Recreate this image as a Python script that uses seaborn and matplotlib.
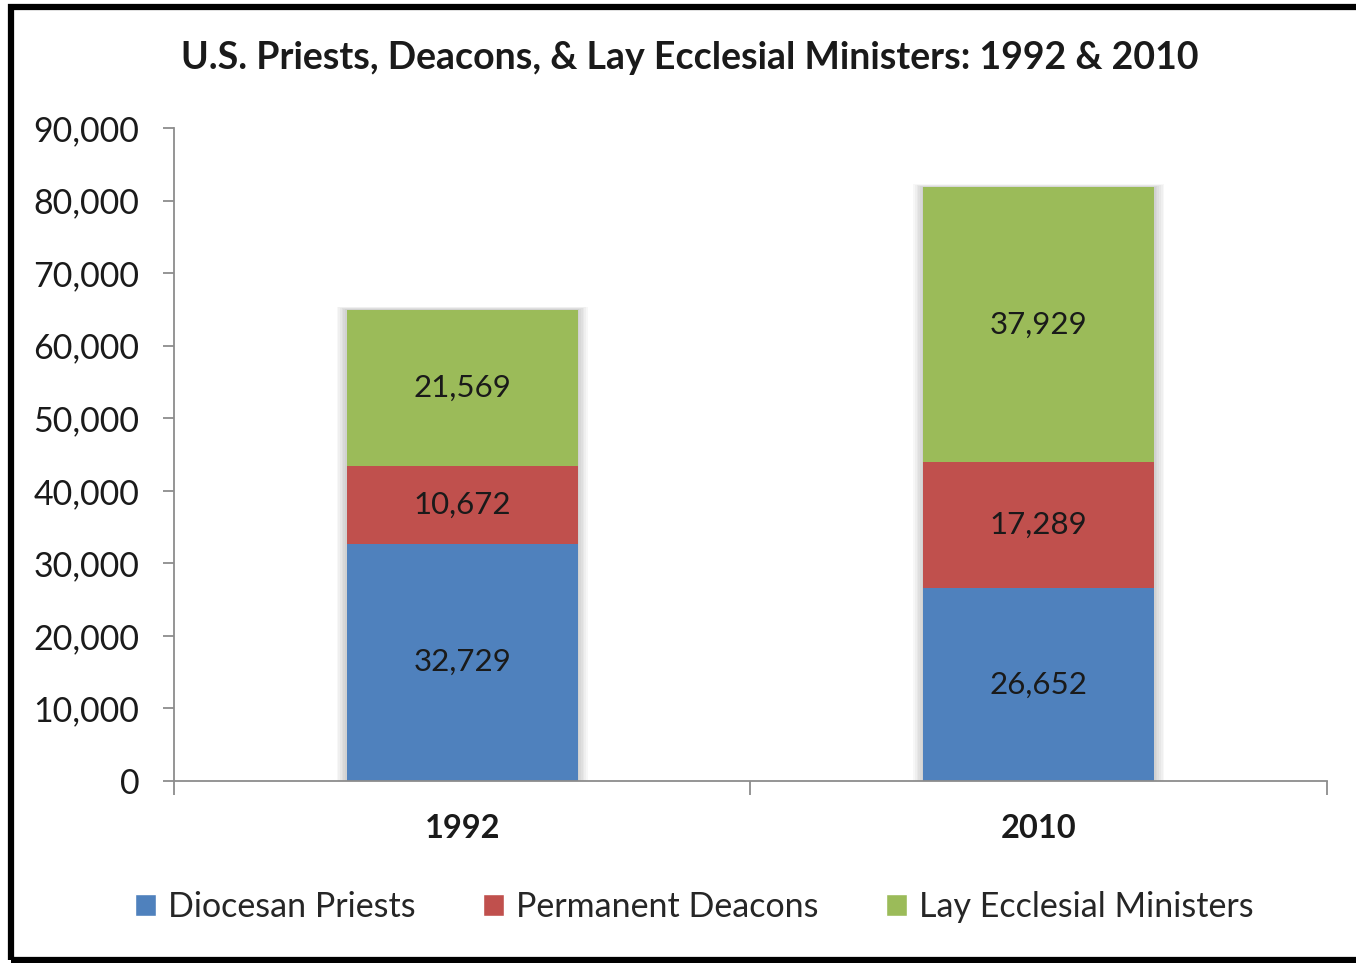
import pandas as pd
import seaborn as sns
import matplotlib.pyplot as plt
from matplotlib.patches import Rectangle, Patch
from matplotlib.ticker import FuncFormatter

# %% Data
years = ['1992', '2010']
priests = [32729, 26652]
deacons = [10672, 17289]
lay_ministers = [21569, 37929]

series = ['Diocesan Priests', 'Permanent Deacons', 'Lay Ecclesial Ministers']
colors = ['#4F81BD', '#C0504D', '#9BBB59']

df = pd.DataFrame({'year': years, 'Diocesan Priests': priests,
                   'Permanent Deacons': deacons,
                   'Lay Ecclesial Ministers': lay_ministers})
df['top1'] = df['Diocesan Priests']
df['top2'] = df['top1'] + df['Permanent Deacons']
df['top3'] = df['top2'] + df['Lay Ecclesial Ministers']

# %% Plot
sns.set_style('white')
plt.rcParams['font.family'] = ['Lato', 'DejaVu Sans']

fig = plt.figure(figsize=(13.56, 9.63), dpi=100)
ax = fig.add_axes([0.1283, 0.189, 0.8503, 0.678])

# soft shadow behind the stacks
for k in range(1, 7):
    ax.bar(range(len(years)), df['top3'] + 60 * k, width=0.4 + 0.006 * k,
           color='black', alpha=0.03, linewidth=0, zorder=0)

for col, c in zip(['top3', 'top2', 'top1'], colors[::-1]):
    sns.barplot(data=df, x='year', y=col, color=c, width=0.4,
                saturation=1, linewidth=0, ax=ax, zorder=2)

for i in range(len(years)):
    bottoms = [0, df['top1'][i], df['top2'][i]]
    vals = [priests[i], deacons[i], lay_ministers[i]]
    for b, v in zip(bottoms, vals):
        ax.text(i, b + v / 2, f'{v:,}', ha='center', va='center',
                fontsize=22.5, color='#1a1a1a', zorder=3)

ax.set_xlim(-0.5, 1.5)
ax.set_ylim(0, 90000)
ax.set_yticks(range(0, 90001, 10000))
ax.yaxis.set_major_formatter(FuncFormatter(lambda v, p: f'{int(v):,}'))
ax.set_xlabel('')
ax.set_ylabel('')

for s in ['top', 'right']:
    ax.spines[s].set_visible(False)
for s in ['left', 'bottom']:
    ax.spines[s].set_color('#8c8c8c')
    ax.spines[s].set_linewidth(1.3)

ax.tick_params(axis='y', which='major', left=True, length=8, width=1.3,
               color='#8c8c8c', labelsize=24.5, pad=17, labelcolor='#1a1a1a')
ax.tick_params(axis='x', which='major', bottom=False, labelsize=23.5, pad=20,
               labelcolor='#1a1a1a')
ax.set_xticks([-0.5, 0.5, 1.5], minor=True)
ax.tick_params(axis='x', which='minor', bottom=True, length=10, width=1.3,
               color='#8c8c8c')
for lbl in ax.get_xticklabels():
    lbl.set_fontweight('bold')

fig.text(0.509, 0.94, 'U.S. Priests, Deacons, & Lay Ecclesial Ministers: 1992 & 2010',
         ha='center', va='center', fontsize=27, fontweight='bold', color='#1a1a1a')

handles = [Patch(facecolor=c, label=s) for s, c in zip(series, colors)]
fig.legend(handles=handles, loc='center', bbox_to_anchor=(0.512, 0.058), ncol=3,
           frameon=False, fontsize=24.5, handlelength=0.6, handleheight=0.6,
           handletextpad=0.35, columnspacing=2.0)

fig.patches.append(Rectangle((0.0081, 0.003), 1.2, 0.9897, transform=fig.transFigure,
                             fill=False, edgecolor='black', linewidth=4.5))

fig.savefig('out.png', dpi=100)
